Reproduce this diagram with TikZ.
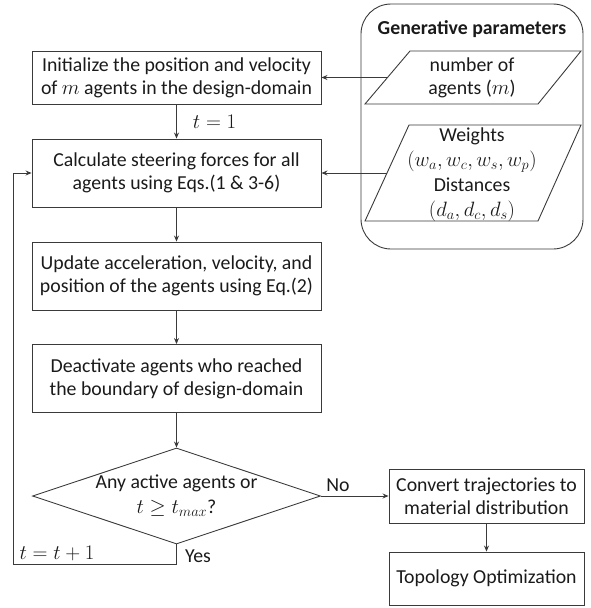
\documentclass[tikz,border=0pt]{standalone}
\usepackage{fontspec}
\setmainfont{Carlito}
\usetikzlibrary{shapes.geometric,arrows.meta}
\definecolor{ln}{HTML}{3A3A3A}
\definecolor{tx}{HTML}{1A1A1A}
\begin{document}
\begin{tikzpicture}[x=1pt,y=-1pt,
  every node/.style={text=tx,font=\fontsize{19.8}{23}\selectfont},
  proc/.style={draw=ln,line width=0.9pt,minimum width=289pt,inner sep=0pt,align=center},
  arr/.style={draw=ln,line width=0.9pt,-{Stealth[length=6pt,width=5pt]}},
  plain/.style={draw=ln,line width=0.9pt},
  lbl/.style={inner sep=0pt}]
\useasboundingbox (0,0) rectangle (591,608);
% generative parameters container
\draw[plain,rounded corners=30pt] (361,4) rectangle (583,249);
\node[lbl,font=\fontsize{19.8}{23}\selectfont\bfseries] (gp) at (472,29) {Generative parameters};
% parallelograms
\draw[plain] (410,51) -- (581,51) -- (538,104) -- (365,104) -- cycle;
\coordinate (p1l) at (387.5,77.5);
\node[lbl,align=center] (p1) at (472,78) {number of\\agents ($m$)};
\draw[plain] (409,125) -- (581,125) -- (538,221) -- (365,221) -- cycle;
\coordinate (p2l) at (387,173);
\node[lbl,align=center,font=\fontsize{19.8}{25}\selectfont] (p2) at (472,175) {Weights\\$(w_a,w_c,w_s,w_p)$\\Distances\\$(d_a,d_c,d_s)$};
% main column
\node[proc,minimum height=53pt] (b1) at (176.5,77.5) {Initialize the position and velocity\\of $m$ agents in the design-domain};
\node[proc,minimum height=68pt] (b2) at (176.5,173) {Calculate steering forces for all\\agents using Eqs.(1 \& 3-6)};
\node[proc,minimum height=68pt] (b3) at (176.5,276) {Update acceleration, velocity, and\\position of the agents using Eq.(2)};
\node[proc,minimum height=68pt] (b4) at (176.5,378.5) {Deactivate agents who reached\\the boundary of design-domain};
\node[diamond,aspect=3,draw=ln,line width=0.9pt,minimum width=288pt,minimum height=96pt,inner sep=-10pt,align=center,font=\fontsize{19.8}{25}\selectfont] (dec) at (176.5,496) {Any active agents or\\$t \geq t_{max}$?};
\node[proc,minimum width=195pt,minimum height=54pt] (cv) at (486.5,496) {Convert trajectories to\\material distribution};
\node[proc,minimum width=195pt,minimum height=53pt] (to) at (486.5,578.5) {Topology Optimization};
% connectors
\draw[arr] (p1l) -- (b1.east);
\draw[arr] (p2l) -- (b2.east);
\draw[arr] (b1) -- node[lbl,right=16pt] (t1) {$t=1$} (b2);
\draw[arr] (b2) -- (b3);
\draw[arr] (b3) -- (b4);
\draw[arr] (b4) -- (dec.north);
\draw[arr] (dec.east) -- (cv.west);
\draw[arr] (cv) -- (to);
\coordinate (lp1) at (176.5,564);
\coordinate (lp2) at (13,564);
\coordinate (lp3) at (13,173);
\draw[arr] (dec.south) -- (lp1) -- (lp2) -- (lp3) -- (b2.west);
\node[lbl] (no) at (338,485) {No};
\node[lbl] (yes) at (198,556) {Yes};
\node[lbl] (tt) at (57,553) {$t=t+1$};
\end{tikzpicture}
\end{document}
